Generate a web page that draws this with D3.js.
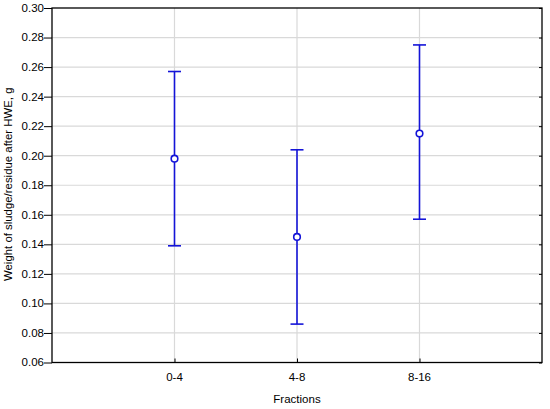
<!DOCTYPE html>
<html><head><meta charset="utf-8">
<script src="https://cdn.jsdelivr.net/npm/d3@7"></script>
<style>body{margin:0;background:#fff}svg{display:block;font-family:"Liberation Sans",Arial,sans-serif}</style>
</head><body><svg id="c" width="550" height="409"></svg>
<script>
const categories = ["0-4","4-8","8-16"];
const means = [0.198, 0.145, 0.215];
const upper = [0.257, 0.204, 0.275];
const lower = [0.139, 0.086, 0.157];
const yTicks = [0.06,0.08,0.10,0.12,0.14,0.16,0.18,0.20,0.22,0.24,0.26,0.28,0.30];

const svg = d3.select("#c");
const L=52, R=542, T=8, B=362.5;
const x = d3.scaleLinear().domain([0,4]).range([L,R]);
const y = d3.scaleLinear().domain([0.06,0.30]).range([B,T]);
const blue = "#1414d8";

// grid
svg.append("g").selectAll("line").data(yTicks.slice(1,-1)).join("line")
  .attr("x1",L).attr("x2",R).attr("y1",d=>y(d)).attr("y2",d=>y(d))
  .attr("stroke","#d9d9d9").attr("stroke-width",1.2);
svg.append("g").selectAll("line").data(categories).join("line")
  .attr("x1",(d,i)=>x(i+1)).attr("x2",(d,i)=>x(i+1)).attr("y1",T).attr("y2",B)
  .attr("stroke","#d9d9d9").attr("stroke-width",1.2);

// axes
const yAxis = d3.axisLeft(y).tickValues(yTicks).tickFormat(d3.format(".2f")).tickSize(8).tickPadding(0);
const gy = svg.append("g").attr("transform",`translate(${L},0)`).call(yAxis);
const yAxisR = d3.axisLeft(y).tickValues(yTicks).tickFormat("").tickSize(3);
const gyr = svg.append("g").attr("transform",`translate(${R},0)`).call(yAxisR);
const xAxis = d3.axisTop(x).tickValues([1,2,3]).tickFormat("").tickSize(4);
const gx = svg.append("g").attr("transform",`translate(0,${B})`).call(xAxis);
[gy,gyr,gx].forEach(g=>{g.select(".domain").remove();g.selectAll("line").attr("stroke","#000");g.selectAll("text").attr("font-size",11.5).attr("fill","#000").attr("font-family","Liberation Sans, Arial, sans-serif");});
gy.selectAll("text").attr("dy","0.3em");

svg.append("rect").attr("x",L).attr("y",T).attr("width",R-L).attr("height",B-T)
  .attr("fill","none").attr("stroke","#000").attr("stroke-width",1.3);

// x labels
svg.append("g").selectAll("text").data(categories).join("text")
  .attr("x",(d,i)=>x(i+1)).attr("y",381).attr("text-anchor","middle")
  .attr("font-size",11.5).text(d=>d);

svg.append("text").attr("x",x(2)).attr("y",403).attr("text-anchor","middle").attr("font-size",11.5).text("Fractions");
svg.append("text").attr("transform",`translate(12,${(T+B)/2 - 1}) rotate(-90)`).attr("text-anchor","middle")
  .attr("font-size",11.4).text("Weight of sludge/residue after HWE, g");

// error bars
const eb = svg.append("g").attr("stroke",blue).attr("stroke-width",1.6).attr("fill","none");
categories.forEach((c,i)=>{
  const cx = x(i+1);
  eb.append("line").attr("x1",cx).attr("x2",cx).attr("y1",y(upper[i])).attr("y2",y(lower[i]));
  eb.append("line").attr("x1",cx-6.5).attr("x2",cx+6.5).attr("y1",y(upper[i])).attr("y2",y(upper[i]));
  eb.append("line").attr("x1",cx-6.5).attr("x2",cx+6.5).attr("y1",y(lower[i])).attr("y2",y(lower[i]));
  eb.append("circle").attr("cx",cx).attr("cy",y(means[i])).attr("r",3.3).attr("fill","#fff");
});
</script></body></html>
